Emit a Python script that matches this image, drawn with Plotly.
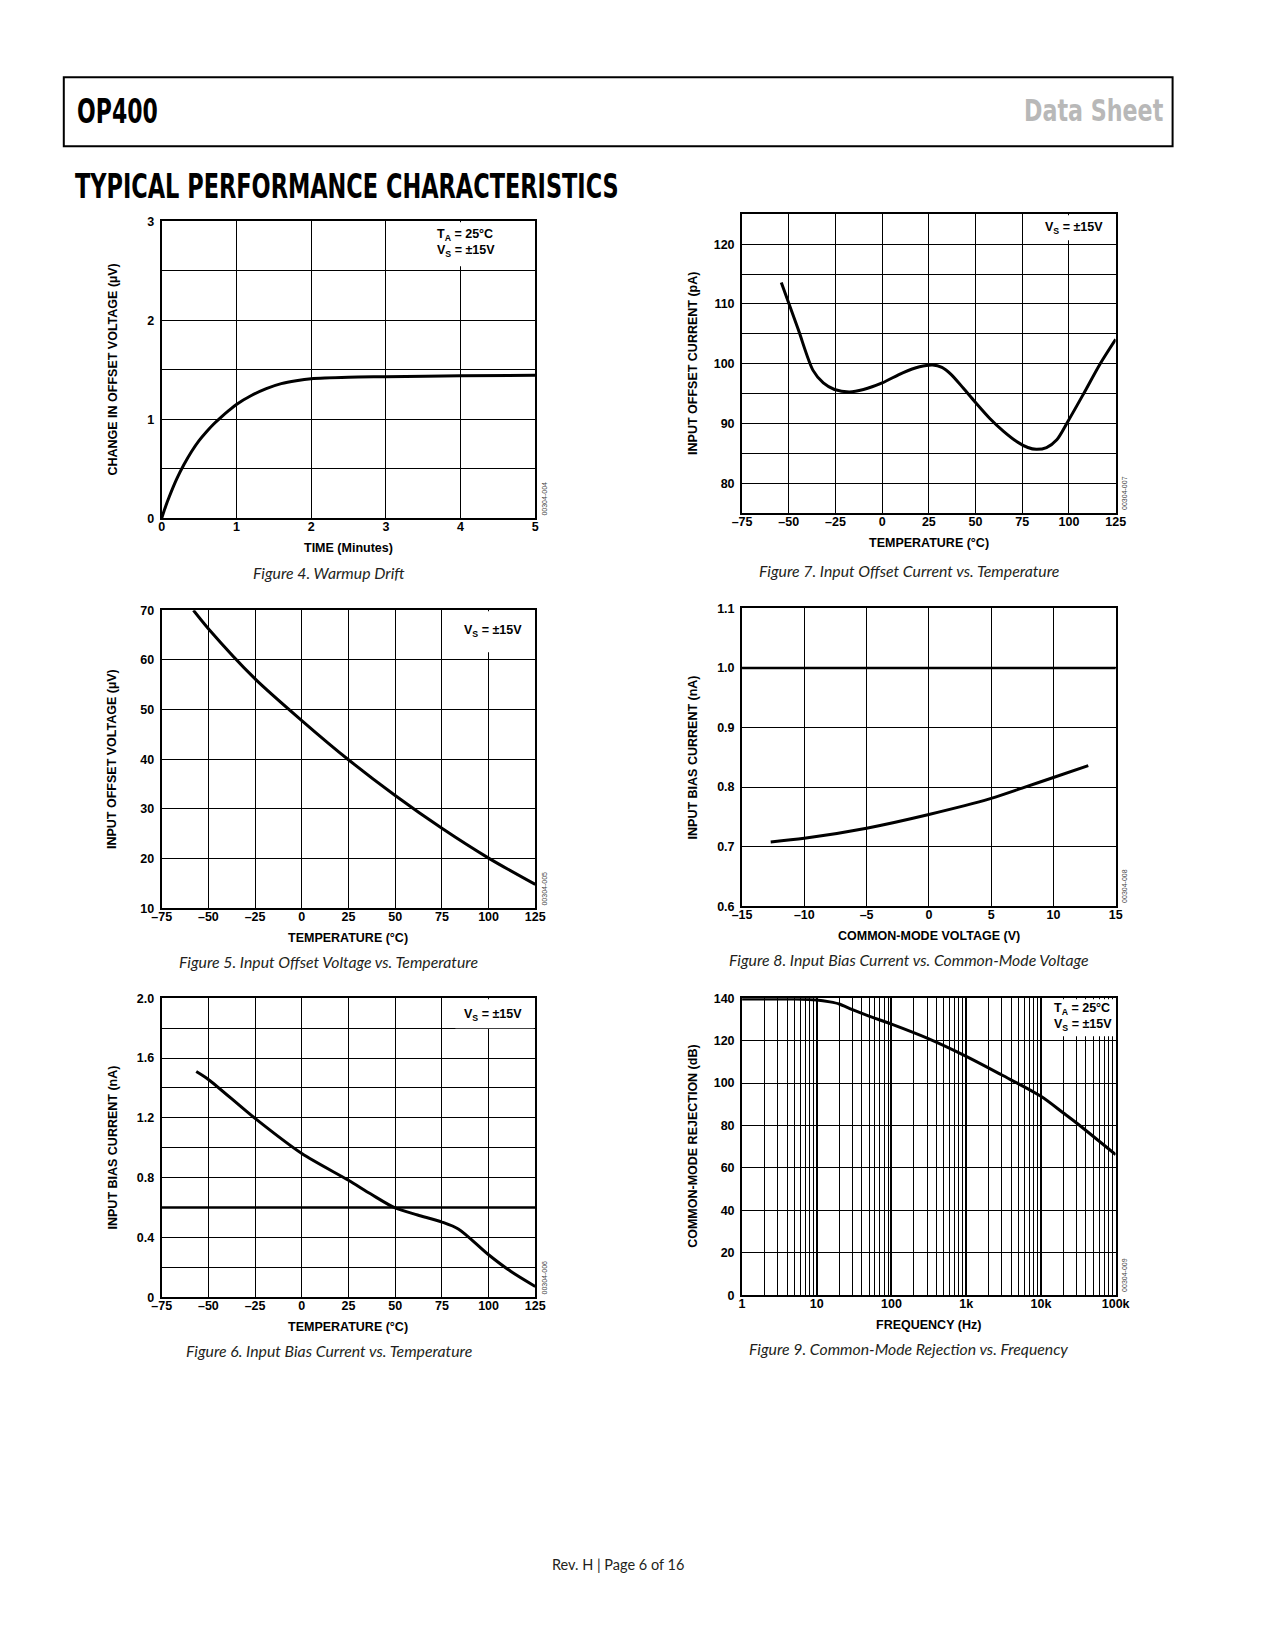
import json
import plotly.graph_objects as go

PAGE_W, PAGE_H = 1275, 1650
OFF = 8  # default body margin of the html page
W, H = PAGE_W - 2 * OFF, PAGE_H - 2 * OFF
# measured correction between page position and photographed position
SX, CX, SY, CY = 0.982, 9.3, 0.9915, 5.75
FONT = "Liberation Sans, Arial, Helvetica, sans-serif"
COND = "DejaVu Sans Condensed, sans-serif"
CAPF = "Lato, Noto Sans, sans-serif"

# ---------------- data ----------------
# Figure 4. Warmup Drift
warm_time = [0, 0.05, 0.1, 0.2, 0.3, 0.4, 0.5, 0.6, 0.7, 0.8, 0.9, 1.0, 1.2, 1.4, 1.6, 1.8, 2.0, 2.5, 3.0, 4.0, 5.0]
warm_dvos = [0, 0.115, 0.215, 0.395, 0.545, 0.675, 0.785, 0.875, 0.955, 1.025, 1.09, 1.15, 1.24, 1.31, 1.36, 1.39, 1.41, 1.425, 1.43, 1.44, 1.445]
# Figure 5. Input Offset Voltage vs. Temperature
vos_temp = [-58, -50, -25, 0, 25, 50, 75, 100, 125]
vos_uv = [70, 66.3, 56.2, 47.8, 39.9, 32.7, 26.1, 20.1, 14.8]
# Figure 6. Input Bias Current vs. Temperature
ib_temp = [-56.5, -50, -25, 0, 25, 37, 50, 62, 75, 84, 100, 112, 125]
ib_na = [1.51, 1.457, 1.196, 0.961, 0.782, 0.69, 0.597, 0.55, 0.503, 0.455, 0.284, 0.172, 0.072]
# Figure 7. Input Offset Current vs. Temperature
ios_temp = [-54, -45, -37, -31.5, -25.5, -17.5, -10, 0, 11, 20, 27, 32, 37, 43.5, 49.5, 57.5, 65, 72, 78, 82.5, 88, 93.5, 99.5, 107.5, 116.5, 125]
ios_pa = [113.6, 105.8, 98.9, 96.8, 95.7, 95.3, 95.7, 96.8, 98.5, 99.5, 99.8, 99.4, 98.2, 95.9, 93.7, 90.9, 88.7, 87.0, 86.0, 85.7, 86.0, 87.3, 90.4, 94.8, 99.9, 104.1]
# Figure 8. Input Bias Current vs. Common-Mode Voltage
cm_volt = [-12.7, -10, -5, 0, 5, 7.6, 10, 12.8]
cm_ib = [0.708, 0.714, 0.731, 0.754, 0.781, 0.799, 0.816, 0.836]
# Figure 9. Common-Mode Rejection vs. Frequency
cmr_freq = [1, 2, 5, 10, 15, 20, 30, 50, 100, 300, 1000, 3000, 10000, 20000, 30000, 100000]
cmr_db = [139.6, 139.7, 139.6, 139.2, 138.3, 137.3, 134.6, 131.6, 127.8, 121.2, 112.6, 103.8, 93.8, 85.9, 81.2, 66.3]

# tick labels and grid positions
temp_ticks = [-75, -50, -25, 0, 25, 50, 75, 100, 125]
temp_text = ["\u201375", "\u201350", "\u201325", "0", "25", "50", "75", "100", "125"]
time_ticks = [0, 1, 2, 3, 4, 5]
time_text = ["0", "1", "2", "3", "4", "5"]
dvos_ticks = [0, 1, 2, 3]
dvos_text = ["0", "1", "2", "3"]
dvos_grid = [0.5, 1.5, 2.5]
vos_ticks = [10, 20, 30, 40, 50, 60, 70]
vos_text = ["10", "20", "30", "40", "50", "60", "70"]
ib_ticks = [0, 0.4, 0.8, 1.2, 1.6, 2.0]
ib_text = ["0", "0.4", "0.8", "1.2", "1.6", "2.0"]
ib_grid = [0.2, 0.6, 1.0, 1.4, 1.8]
ios_ticks = [80, 90, 100, 110, 120]
ios_text = ["80", "90", "100", "110", "120"]
ios_grid = [75, 85, 95, 105, 115, 125]
cmv_ticks = [-15, -10, -5, 0, 5, 10, 15]
cmv_text = ["\u201315", "\u201310", "\u20135", "0", "5", "10", "15"]
cmib_ticks = [0.6, 0.7, 0.8, 0.9, 1.0, 1.1]
cmib_text = ["0.6", "0.7", "0.8", "0.9", "1.0", "1.1"]
freq_ticks = [1, 10, 100, 1000, 10000, 100000]
freq_text = ["1", "10", "100", "1k", "10k", "100k"]
cmr_ticks = [0, 20, 40, 60, 80, 100, 120, 140]
cmr_text = ["0", "20", "40", "60", "80", "100", "120", "140"]
freq_minor = [m * d for d in [1, 10, 100, 1000, 10000] for m in range(2, 10)]


def fx(p):
    return ((p - CX) / SX - OFF) / W


def fy(p):
    return 1 - ((p - CY) / SY - OFF) / H


fig = go.Figure()

panels = [
    dict(n=1, box=(161, 535, 220, 517), capy=571, x=warm_time, y=warm_dvos, xr=[0, 5], yr=[0, 3],
         xt=time_ticks, xtt=time_text, yt=dvos_ticks, ytt=dvos_text, ygrid=dvos_grid,
         xtitle="TIME (Minutes)", ytitle="CHANGE IN OFFSET VOLTAGE (\u00b5V)",
         cap="Figure 4. Warmup Drift", pid="00304-004"),
    dict(n=2, box=(742, 1116, 213, 512), capy=569, x=ios_temp, y=ios_pa, xr=[-75, 125], yr=[75, 125],
         xt=temp_ticks, xtt=temp_text, yt=ios_ticks, ytt=ios_text, ygrid=ios_grid,
         xtitle="TEMPERATURE (\u00b0C)", ytitle="INPUT OFFSET CURRENT (pA)",
         cap="Figure 7. Input Offset Current vs. Temperature", pid="00304-007"),
    dict(n=3, box=(161, 535, 609, 907), capy=960, x=vos_temp, y=vos_uv, xr=[-75, 125], yr=[10, 70],
         xt=temp_ticks, xtt=temp_text, yt=vos_ticks, ytt=vos_text,
         xtitle="TEMPERATURE (\u00b0C)", ytitle="INPUT OFFSET VOLTAGE (\u00b5V)",
         cap="Figure 5. Input Offset Voltage vs. Temperature", pid="00304-005"),
    dict(n=4, box=(742, 1116, 607, 905), capy=958, x=cm_volt, y=cm_ib, xr=[-15, 15], yr=[0.6, 1.1],
         xt=cmv_ticks, xtt=cmv_text, yt=cmib_ticks, ytt=cmib_text,
         xtitle="COMMON-MODE VOLTAGE (V)", ytitle="INPUT BIAS CURRENT (nA)",
         cap="Figure 8. Input Bias Current vs. Common-Mode Voltage", pid="00304-008"),
    dict(n=5, box=(161, 535, 997, 1296), capy=1349, x=ib_temp, y=ib_na, xr=[-75, 125], yr=[0, 2],
         xt=temp_ticks, xtt=temp_text, yt=ib_ticks, ytt=ib_text, ygrid=ib_grid,
         xtitle="TEMPERATURE (\u00b0C)", ytitle="INPUT BIAS CURRENT (nA)",
         cap="Figure 6. Input Bias Current vs. Temperature", pid="00304-006"),
    dict(n=6, box=(742, 1116, 997, 1294), capy=1347, x=cmr_freq, y=cmr_db, xr=[0, 5], yr=[0, 140],
         xt=freq_ticks, xtt=freq_text, yt=cmr_ticks, ytt=cmr_text,
         xtitle="FREQUENCY (Hz)", ytitle="COMMON-MODE REJECTION (dB)",
         cap="Figure 9. Common-Mode Rejection vs. Frequency", pid="00304-009", log=True),
]

tickfont = dict(family=FONT, size=12.5, color="black", weight="bold")
titlefont = dict(family=FONT, size=12.5, color="black", weight="bold")
annots = []
shapes = []
layout_axes = {}

for p in panels:
    n = p["n"]
    l, r, t, b = p["box"]
    sfx = "" if n == 1 else str(n)
    xref, yref = "x" + sfx, "y" + sfx
    fig.add_trace(go.Scatter(x=p["x"], y=p["y"], mode="lines", xaxis=xref, yaxis=yref,
                             line=dict(color="black", width=3, shape="spline", smoothing=0.8),
                             showlegend=False, hoverinfo="skip"))
    xa = dict(domain=[fx(l), fx(r)], range=p["xr"], anchor=yref, tickvals=p["xt"], ticktext=p["xtt"],
              showgrid=True, gridcolor="black", gridwidth=1, zeroline=False,
              showline=True, linecolor="black", linewidth=2, mirror=True,
              ticks="", tickfont=tickfont, ticklabelstandoff=-4, fixedrange=True)
    ya = dict(domain=[fy(b), fy(t)], range=p["yr"], anchor=xref, tickvals=p["yt"], ticktext=p["ytt"],
              showgrid=True, gridcolor="black", gridwidth=1, zeroline=False,
              showline=True, linecolor="black", linewidth=2, mirror=True,
              ticks="", tickfont=tickfont, ticklabelstandoff=3, fixedrange=True)
    if p.get("ygrid"):
        ya["minor"] = dict(tickvals=p["ygrid"], showgrid=True, gridcolor="black", gridwidth=1, ticks="")
    if p.get("log"):
        xa.update(type="log", gridwidth=2,
                  minor=dict(tickvals=freq_minor, showgrid=True, gridcolor="black", gridwidth=1, ticks=""))
    layout_axes["xaxis" + sfx] = xa
    layout_axes["yaxis" + sfx] = ya

    cx = (l + r) / 2
    cy = (t + b) / 2
    annots.append(dict(text=p["xtitle"], x=fx(cx), y=fy(b + 30), xref="paper", yref="paper",
                       showarrow=False, font=titlefont, xanchor="center", yanchor="middle"))
    annots.append(dict(text=p["ytitle"], x=fx(l - 49), y=fy(cy), xref="paper", yref="paper",
                       showarrow=False, font=titlefont, textangle=-90, xanchor="center", yanchor="middle"))
    colc = 328 if l < 600 else 909
    annots.append(dict(text="<i>" + p["cap"] + "</i>", x=fx(colc), y=fy(p["capy"]), xref="paper", yref="paper",
                       showarrow=False, font=dict(family=CAPF, size=15.8, color="#231f20"),
                       xanchor="center", yanchor="middle"))
    annots.append(dict(text=p["pid"], x=fx(r + 9), y=fy(b - 20), xref="paper", yref="paper",
                       showarrow=False, font=dict(family=FONT, size=7, color="#444444"), textangle=-90,
                       xanchor="center", yanchor="middle"))

fig.update_layout(**layout_axes)

# condition boxes (white background covering the grid)
cond = [
    ((428, 533.5, 221, 265), 435, 242, "T<sub>A</sub> = 25\u00b0C<br>V<sub>S</sub> = \u00b115V"),
    ((1035, 1114.5, 214, 239), 1043, 227, "V<sub>S</sub> = \u00b115V"),
    ((455, 533.5, 610, 651), 462, 630, "V<sub>S</sub> = \u00b115V"),
    ((455, 533.5, 998, 1027), 462, 1014, "V<sub>S</sub> = \u00b115V"),
    ((1045, 1114.5, 998, 1035), 1052, 1016, "T<sub>A</sub> = 25\u00b0C<br>V<sub>S</sub> = \u00b115V"),
]
for (x0, x1, y0, y1), tx, ty, txt in cond:
    shapes.append(dict(type="rect", xref="paper", yref="paper", x0=fx(x0), x1=fx(x1), y0=fy(y1), y1=fy(y0),
                       fillcolor="white", line=dict(width=0), layer="above"))
    annots.append(dict(text=txt, x=fx(tx), y=fy(ty), xref="paper", yref="paper", showarrow=False,
                       font=dict(family=FONT, size=12.5, color="black", weight="bold"),
                       align="left", xanchor="left", yanchor="middle"))

# emphasised grid lines in the original
shapes.append(dict(type="line", xref="x4 domain", yref="y4", x0=0, x1=1, y0=1.0, y1=1.0,
                   line=dict(color="black", width=2.5), layer="below"))
shapes.append(dict(type="line", xref="x5 domain", yref="y5", x0=0, x1=1, y0=0.6, y1=0.6,
                   line=dict(color="black", width=2.5), layer="below"))

# page header (condensed display face: glyphs are narrowed to the original widths below)
shapes.append(dict(type="rect", xref="paper", yref="paper", x0=fx(63), x1=fx(1173), y0=fy(145), y1=fy(76),
                   line=dict(color="black", width=2), fillcolor="rgba(0,0,0,0)", layer="above"))
header_texts = [
    # text, centre x, centre y, size, colour, target width (px)
    ("OP400", 116.3, 110.3, 33, "black", 79.3),
    ("Data Sheet", 1093.4, 109.4, 30, "#b8b8b8", 136.7),
    ("TYPICAL PERFORMANCE CHARACTERISTICS", 346.8, 185.5, 33, "black", 534),
]
fit = {}
for txt, hx, hy, hs, hc, hw in header_texts:
    annots.append(dict(text=txt, x=fx(hx), y=fy(hy), xref="paper", yref="paper", showarrow=False,
                       font=dict(family=COND, size=hs, color=hc, weight="bold"),
                       xanchor="center", yanchor="middle"))
    fit[txt] = round(hw / SX, 1)

annots.append(dict(text="Rev. H | Page 6 of 16", x=fx(618), y=fy(1563), xref="paper", yref="paper",
                   showarrow=False, font=dict(family=CAPF, size=14.5, color="#231f20"),
                   xanchor="center", yanchor="middle"))

fig.update_layout(width=W, height=H, margin=dict(l=0, r=0, t=0, b=0),
                  paper_bgcolor="white", plot_bgcolor="white",
                  annotations=annots, shapes=shapes, showlegend=False)

post = """
try {
  var fit = %s;
  var gd = document.getElementById('{plot_id}');
  gd.querySelectorAll('text.annotation-text').forEach(function (t) {
    var k = t.textContent;
    if (fit.hasOwnProperty(k)) {
      t.setAttribute('textLength', fit[k]);
      t.setAttribute('lengthAdjust', 'spacingAndGlyphs');
    }
  });
} catch (e) {}
""" % json.dumps(fit)

fig.write_html("out.html", config={"displayModeBar": False}, post_script=post)
